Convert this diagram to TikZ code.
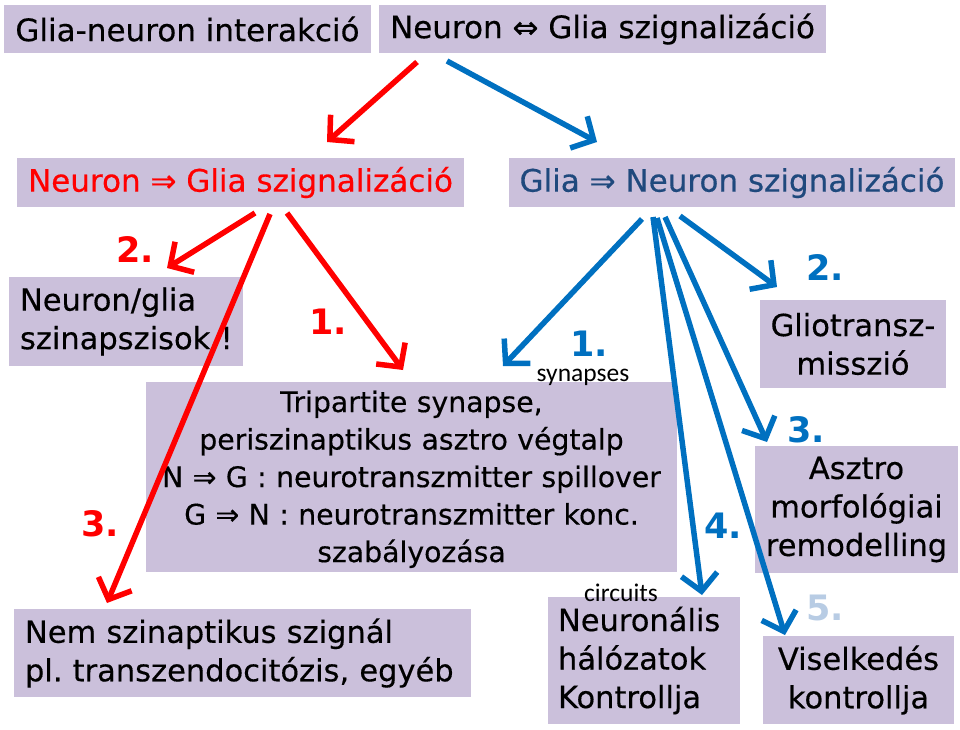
\documentclass[tikz,border=0pt]{standalone}
\usepackage{fontspec}
\setmainfont{DejaVu Sans}[FakeBold=0.4]
\newfontfamily\szamfont{DejaVu Sans Bold}
\newfontfamily\calibrifont{Carlito}
\usepackage{xcolor}
\usepackage{tikz}
\usetikzlibrary{arrows.meta, positioning}
\frenchspacing
\definecolor{lila}{RGB}{203,192,219}
\definecolor{piros}{RGB}{255,0,0}
\definecolor{kek}{RGB}{0,112,192}
\definecolor{sotetkek}{RGB}{31,73,125}
\definecolor{halvanykek}{RGB}{184,204,228}
\tikzset{
  titlebox/.style={
    fill=lila, inner sep=0pt, align=center,
    minimum height=48pt, font=\fontsize{31}{34}\selectfont
  },
  textbox/.style={
    fill=lila, inner xsep=11pt, inner ysep=0pt,
    font=\fontsize{30.5}{38.5}\selectfont
  },
  numlabel/.style={font=\szamfont\fontsize{35}{40}\selectfont, inner sep=0pt},
  smalllabel/.style={font=\calibrifont\fontsize{25.5}{28}\selectfont, inner sep=0pt},
  redarrow/.style={-{Straight Barb[length=17pt, width=36pt]}, line width=5.5pt, draw=piros},
  bluearrow/.style={-{Straight Barb[length=17pt, width=36pt]}, line width=5.5pt, draw=kek},
}
\begin{document}
\begin{tikzpicture}[x=1pt, y=-1pt]
  \useasboundingbox (0,0) rectangle (960,730);

  % Title row
  \node[titlebox, minimum width=367pt] (interakcio) at (187.5,29) {Glia-neuron interakció};
  \node[titlebox, minimum width=447pt] (ketiranyu) at (602.5,29) {Neuron ⇔ Glia szignalizáció};

  % Second row
  \node[titlebox, minimum width=447pt, text=piros] (ngjel) at (240.5,182.5) {Neuron ⇒ Glia szignalizáció};
  \node[titlebox, minimum width=446pt, text=sotetkek] (gnjel) at (732,182.5) {Glia ⇒ Neuron szignalizáció};

  % Boxes
  \node[textbox, text width=212pt, minimum height=89pt, align=left] (szinapszis) at (126,321.5)
    {Neuron/glia\\szinapszisok~!};
  \node[textbox, text width=509pt, minimum height=190pt, align=center,
        font=\fontsize{28.3}{37.5}\selectfont] (tripartit) at (411.5,477)
    {\rule{0pt}{26pt}Tripartite synapse,\\periszinaptikus asztro végtalp\\N ⇒ G : neurotranszmitter spillover\\G ⇒ N : neurotranszmitter konc.\\szabályozása};
  \node[textbox, text width=435pt, minimum height=88pt, align=left] (nemszin) at (242.5,653)
    {Nem szinaptikus szignál\\pl. transzendocitózis, egyéb};
  \node[textbox, inner xsep=10pt, text width=172pt, minimum height=127pt, align=left] (halozat) at (644,660.5)
    {Neuronális\\hálózatok\\Kontrollja};
  \node[textbox, inner xsep=4pt, text width=178pt, minimum height=88pt, align=center] (gliotr) at (853,344)
    {Gliotransz-\\misszió};
  \node[textbox, inner xsep=4pt, text width=195pt, minimum height=127pt, align=center] (morfo) at (856.5,509.5)
    {Asztro\\morfológiai\\remodelling};
  \node[textbox, inner xsep=4pt, text width=183pt, minimum height=88pt, align=center] (viselk) at (858.5,680)
    {Viselkedés\\kontrollja};

  % Numbers
  \node[numlabel, text=piros] (r2) at (135,250) {2.};
  \node[numlabel, text=piros] (r1) at (328,322) {1.};
  \node[numlabel, text=piros] (r3) at (100,524) {3.};
  \node[numlabel, text=kek] (b1) at (589,344) {1.};
  \node[numlabel, text=kek] (b2) at (825,268) {2.};
  \node[numlabel, text=kek] (b3) at (806,430) {3.};
  \node[numlabel, text=kek] (b4) at (723,526) {4.};
  \node[numlabel, text=halvanykek] (b5) at (825,608) {5.};
  \node[smalllabel] (synapses) at (583,377) {synapses};
  \node[smalllabel] (circuits) at (621,593) {circuits};

  % Arrow ends
  \coordinate (ketiranyu-l) at (417,62);
  \coordinate (ketiranyu-r) at (447,61);
  \coordinate (ngjel-top) at (327,142);
  \coordinate (gnjel-top) at (597,142);
  \coordinate (ngjel-a) at (255,213);
  \coordinate (ngjel-b) at (270,214);
  \coordinate (ngjel-c) at (287,213);
  \coordinate (szinapszis-in) at (167,268);
  \coordinate (tripartit-in) at (403,370);
  \coordinate (nemszin-in) at (107,603);
  \coordinate (gnjel-a) at (642,219);
  \coordinate (gnjel-b) at (653,217);
  \coordinate (gnjel-c) at (657,218);
  \coordinate (gnjel-d) at (665,217);
  \coordinate (gnjel-e) at (680,216);
  \coordinate (tripartit-b) at (503,366);
  \coordinate (halozat-in) at (702,595);
  \coordinate (viselk-in) at (785,635);
  \coordinate (morfo-in) at (767,442);
  \coordinate (gliotr-in) at (777,287);

  % Red arrows
  \draw[redarrow] (ketiranyu-l) -- (ngjel-top);
  \draw[redarrow] (ngjel-a) -- (szinapszis-in);
  \draw[redarrow] (ngjel-b) -- (nemszin-in);
  \draw[redarrow] (ngjel-c) -- (tripartit-in);

  % Blue arrows
  \draw[bluearrow] (ketiranyu-r) -- (gnjel-top);
  \draw[bluearrow] (gnjel-a) -- (tripartit-b);
  \draw[bluearrow] (gnjel-b) -- (halozat-in);
  \draw[bluearrow] (gnjel-c) -- (viselk-in);
  \draw[bluearrow] (gnjel-d) -- (morfo-in);
  \draw[bluearrow] (gnjel-e) -- (gliotr-in);
\end{tikzpicture}
\end{document}
